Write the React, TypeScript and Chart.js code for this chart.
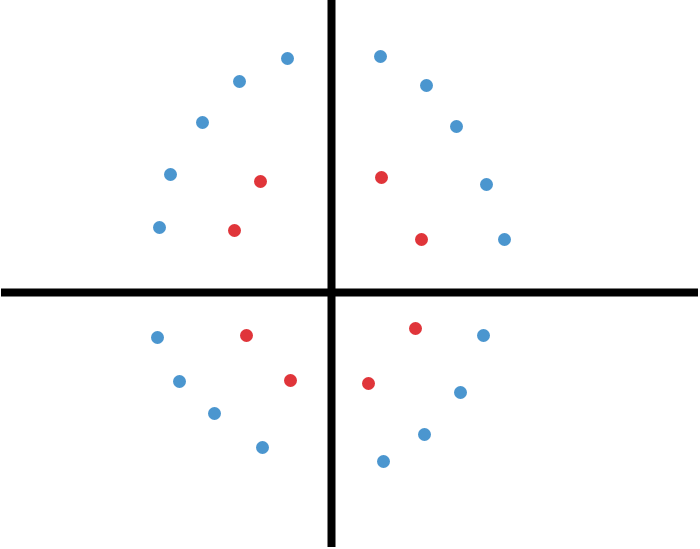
import React, { useEffect, useRef } from "react";
import { Chart, registerables } from "chart.js";

Chart.register(...registerables);

const blueX = [-4.4, -9.2, -12.9, -16.1, -17.2, 4.9, 9.5, 12.5, 15.5, 17.3, -17.4, -15.2, -11.7, -6.9, 15.2, 12.9, 9.3, 5.2];
const blueY = [23.4, 21.1, 17.0, 11.8, 6.5, 23.6, 20.7, 16.6, 10.8, 5.3, -4.5, -8.9, -12.1, -15.5, -4.3, -10.0, -14.2, -16.9];
const redX = [-7.1, -9.7, 5.0, 9.0, -8.5, -4.1, 8.4, 3.7];
const redY = [11.1, 6.2, 11.5, 5.3, -4.3, -8.8, -3.6, -9.1];

const axisPlugin = {
  id: "crossAxes",
  beforeDatasetsDraw(chart: any) {
    const { ctx, chartArea, scales } = chart;
    const x0 = scales.x.getPixelForValue(0);
    const y0 = scales.y.getPixelForValue(0);
    ctx.save();
    ctx.strokeStyle = "#000000";
    ctx.lineWidth = 8;
    ctx.lineCap = "butt";
    ctx.beginPath();
    ctx.moveTo(chartArea.left + 1, y0);
    ctx.lineTo(chartArea.right - 2, y0);
    ctx.moveTo(x0, chartArea.top);
    ctx.lineTo(x0, chartArea.bottom - 2);
    ctx.stroke();
    ctx.restore();
  },
};

export default function App() {
  const ref = useRef<HTMLCanvasElement | null>(null);
  useEffect(() => {
    if (!ref.current) return;
    const chart = new Chart(ref.current, {
      type: "scatter",
      data: {
        datasets: [
          {
            label: "blue",
            data: blueX.map((x, i) => ({ x, y: blueY[i] })),
            backgroundColor: "#4b96cf",
            borderColor: "#4b96cf",
            pointRadius: 6.5,
            pointBorderWidth: 0,
          },
          {
            label: "red",
            data: redX.map((x, i) => ({ x, y: redY[i] })),
            backgroundColor: "#e0353a",
            borderColor: "#e0353a",
            pointRadius: 6.5,
            pointBorderWidth: 0,
          },
        ],
      },
      options: {
        animation: false,
        responsive: false,
        layout: { padding: 0, autoPadding: false },
        plugins: { legend: { display: false }, tooltip: { enabled: false } },
        scales: {
          x: { type: "linear", min: -33.15, max: 36.85, display: false },
          y: { type: "linear", min: -25.65, max: 29.25, display: false },
        },
      },
      plugins: [axisPlugin],
    });
    return () => chart.destroy();
  }, []);
  return (
    <div style={{ position: "fixed", left: 0, top: 0, width: 700, height: 549, background: "#ffffff" }}>
      <canvas ref={ref} width={700} height={549} style={{ width: 700, height: 549, display: "block" }} />
    </div>
  );
}
